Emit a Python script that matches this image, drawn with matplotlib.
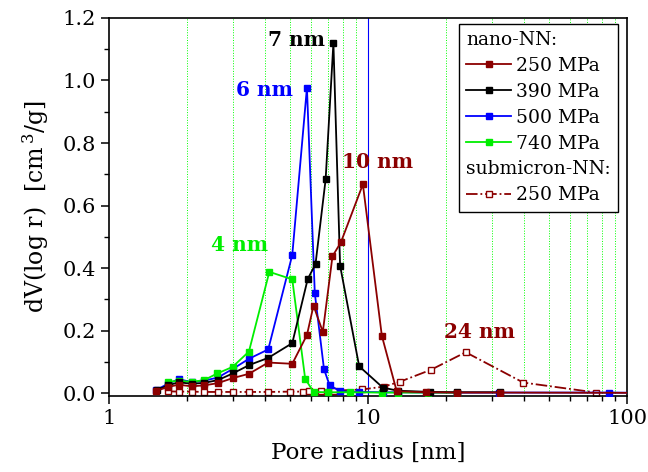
import matplotlib
matplotlib.use('Agg')
import matplotlib.pyplot as plt
from matplotlib.lines import Line2D
from matplotlib.ticker import LogLocator, MultipleLocator, NullFormatter, FixedLocator

plt.rcParams['font.family'] = 'DejaVu Serif'
plt.rcParams['mathtext.fontset'] = 'dejavuserif'

# nano-NN, 250 MPa
r_250 = [1.52, 1.69, 1.86, 2.09, 2.33, 2.63, 3.0, 3.47, 4.12, 5.1, 5.81, 6.16, 6.69, 7.29, 7.86, 9.55, 11.3, 12.9, 16.7, 22.0, 32.4, 120]
v_250 = [0.007, 0.02, 0.027, 0.022, 0.025, 0.032, 0.048, 0.062, 0.098, 0.094, 0.186, 0.28, 0.196, 0.438, 0.483, 0.668, 0.184, 0.006, 0.003, 0.002, 0.002, 0.001]

# nano-NN, 390 MPa
r_390 = [1.53, 1.69, 1.86, 2.09, 2.33, 2.64, 3.02, 3.48, 4.12, 5.1, 5.85, 6.27, 6.86, 7.35, 7.8, 9.24, 11.4, 13.0, 17.4, 22.0, 32.4]
v_390 = [0.01, 0.025, 0.035, 0.03, 0.033, 0.042, 0.064, 0.09, 0.113, 0.16, 0.365, 0.413, 0.684, 1.12, 0.408, 0.086, 0.018, 0.008, 0.004, 0.003, 0.003]

# nano-NN, 500 MPa
r_500 = [1.52, 1.69, 1.86, 2.09, 2.33, 2.63, 3.0, 3.47, 4.12, 5.1, 5.81, 6.23, 6.76, 7.1, 7.8, 9.2, 11.4, 13.0, 17.0, 22.0, 32.0, 85.0, 120]
v_500 = [0.01, 0.03, 0.045, 0.035, 0.04, 0.05, 0.077, 0.11, 0.14, 0.442, 0.977, 0.32, 0.077, 0.026, 0.006, 0.004, 0.003, 0.003, 0.002, 0.002, 0.002, 0.002, 0.001]

# nano-NN, 740 MPa
r_740 = [1.69, 1.86, 2.09, 2.33, 2.62, 3.0, 3.47, 4.16, 5.1, 5.72, 6.16, 7.0, 8.5, 11.3, 13.0, 17.0, 22.0]
v_740 = [0.036, 0.04, 0.036, 0.042, 0.063, 0.084, 0.133, 0.388, 0.364, 0.046, 0.004, 0.003, 0.003, 0.002, 0.002, 0.002, 0.002]

# submicron-NN, 250 MPa
r_sub = [1.69, 1.86, 2.09, 2.33, 2.63, 3.0, 3.47, 4.12, 5.0, 5.6, 5.9, 6.6, 7.1, 7.4, 9.5, 11.5, 13.3, 17.5, 23.8, 39.7, 76.0]
v_sub = [0.006, 0.005, 0.005, 0.004, 0.004, 0.004, 0.004, 0.004, 0.005, 0.005, 0.006, 0.007, 0.008, 0.008, 0.012, 0.021, 0.037, 0.075, 0.131, 0.034, 0.002]

# peak annotations
peak_text = ['7 nm', '6 nm', '10 nm', '4 nm', '24 nm']
peak_x = [5.3, 4.0, 10.9, 3.2, 27.0]
peak_y = [1.128, 0.968, 0.74, 0.474, 0.195]

dark_red = '#8b0000'
green = '#00ee00'
peak_col = ['black', 'blue', dark_red, green, dark_red]

fig, ax = plt.subplots(figsize=(6.48, 4.72), dpi=100)
fig.subplots_adjust(left=0.168, right=0.968, top=0.962, bottom=0.161)

# grid: green dotted at minor decades, blue line at 10
for x in [2, 3, 4, 5, 6, 7, 8, 9, 20, 30, 40, 50, 60, 70, 80, 90]:
    ax.axvline(x, color='#00ff00', ls=':', lw=0.7, zorder=0)
ax.axvline(10, color='blue', lw=0.8, zorder=0)

ms = 4.2
lw = 1.3
ax.plot(r_250, v_250, '-s', color=dark_red, ms=ms, lw=lw, label='250 MPa', zorder=5)
ax.plot(r_390, v_390, '-s', color='black', ms=ms, lw=lw, label='390 MPa', zorder=4)
ax.plot(r_500, v_500, '-s', color='blue', ms=ms, lw=lw, label='500 MPa', zorder=3)
ax.plot(r_740, v_740, '-s', color=green, ms=ms, lw=lw, label='740 MPa', zorder=3)
ax.plot(r_sub, v_sub, '-.s', color=dark_red, ms=ms, lw=lw, mfc='white', mec=dark_red,
        label='250 MPa', zorder=2)

ax.set_xscale('log')
ax.set_xlim(1, 100)
ax.set_ylim(-0.009, 1.2)
ax.xaxis.set_major_locator(FixedLocator([1, 10, 100]))
ax.set_xticklabels(['1', '10', '100'])
ax.xaxis.set_minor_locator(LogLocator(base=10, subs=range(2, 10)))
ax.xaxis.set_minor_formatter(NullFormatter())
ax.yaxis.set_major_locator(MultipleLocator(0.2))
ax.yaxis.set_minor_locator(MultipleLocator(0.1))
ax.yaxis.set_major_formatter(plt.FuncFormatter(lambda v, p: f'{v:.1f}'))
ax.tick_params(which='major', direction='out', length=6, width=1.1, labelsize=15)
ax.tick_params(which='minor', direction='out', length=3.5, width=1.0)
for s in ax.spines.values():
    s.set_linewidth(1.2)

ax.set_xlabel('Pore radius [nm]', fontsize=16.5, labelpad=10)
ax.set_ylabel(r'dV(log r)  [cm$^{\,3}$/g]', fontsize=17, labelpad=8)

for t, x, y, c in zip(peak_text, peak_x, peak_y, peak_col):
    ax.text(x, y, t, color=c, fontsize=14.5, fontweight='bold', ha='center', va='center')

# legend with two group headers
blank = Line2D([], [], ls='none', marker=None)
h = ax.get_legend_handles_labels()[0]
handles = [blank, h[0], h[1], h[2], h[3], blank, h[4]]
labels = ['nano-NN:', '250 MPa', '390 MPa', '500 MPa', '740 MPa', 'submicron-NN:', '250 MPa']
leg = ax.legend(handles, labels, loc='upper right', bbox_to_anchor=(0.983, 0.985),
                fontsize=13.5, frameon=True, fancybox=False, edgecolor='black',
                framealpha=1, handlelength=2.4, handletextpad=0.25,
                labelspacing=0.42, borderpad=0.4, borderaxespad=0)
leg.get_frame().set_linewidth(1.0)
rows = leg._legend_handle_box.get_children()[0].get_children()
for i in (0, 5):
    row = rows[i]
    row.get_children()[0].width = 0
    row.sep = 0

fig.savefig('out.png', dpi=100)
